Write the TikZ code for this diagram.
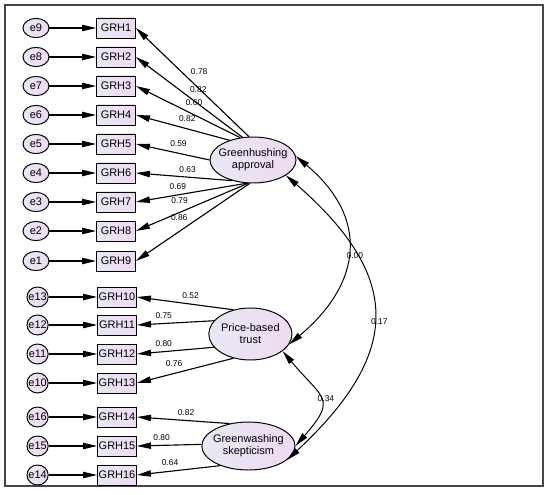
\documentclass[tikz,border=0pt]{standalone}
\usepackage{fontspec}
\setmainfont{Liberation Sans}
\usetikzlibrary{arrows.meta,shapes.geometric}
\definecolor{shadeL}{RGB}{232,232,244}
\definecolor{shadeR}{RGB}{238,218,242}
\definecolor{frameGray}{RGB}{70,70,70}

\begin{document}
\begin{tikzpicture}[
    item/.style={rectangle, draw, line width=0.7pt, minimum width=0.97cm, minimum height=0.5cm, inner sep=0pt, left color=shadeL, right color=shadeR, font=\fontsize{7.8}{9}\selectfont},
    err/.style={ellipse, draw, line width=0.7pt, minimum width=0.65cm, minimum height=0.48cm, inner sep=0pt, left color=shadeL, right color=shadeR, font=\fontsize{7.8}{9}\selectfont},
    errsmall/.style={err, minimum width=0.53cm, minimum height=0.5cm, inner xsep=-3pt},
    factor/.style={ellipse, draw, line width=0.7pt, inner xsep=-4pt, inner ysep=0pt, align=center, left color=shadeL, right color=shadeR, font=\fontsize{7.8}{8.5}\selectfont},
    arrow/.style={-{Triangle[length=10pt,width=4.5pt]}, line width=0.8pt},
    covar/.style={{Triangle[length=10pt,width=4.5pt]}-{Triangle[length=10pt,width=4.5pt]}, line width=0.7pt},
    coef/.style={font=\fontsize{6}{7}\selectfont, inner sep=1pt}
]
    \useasboundingbox (0,0) rectangle (13.75,12.35);
    \draw[frameGray, line width=1pt] (0.125,0.2) rectangle (13.575,12.225);

    \node[factor, minimum width=2.15cm, minimum height=1.15cm] (approval) at (6.325,8.35) {Greenhushing\\approval};
    \node[factor, minimum width=2.08cm, minimum height=1.3cm] (trust) at (6.26,4.0) {Price-based\\trust};
    \node[factor, minimum width=2.33cm, minimum height=1.2cm] (skept) at (6.21,1.2) {Greenwashing\\skepticism};

    \foreach \row/\e/\y in {1/9/11.65, 2/8/10.925, 3/7/10.2, 4/6/9.475, 5/5/8.75, 6/4/8.025, 7/3/7.3, 8/2/6.575, 9/1/5.825} {
        \node[item] (GRH\row) at (2.9,\y) {GRH\row};
        \node[err] (e\e) at (0.9,\y) {e\e};
        \draw[arrow] (e\e) -- (GRH\row);
    }
    \foreach \row/\e/\y in {10/13/4.925, 11/12/4.225, 12/11/3.5, 13/10/2.775, 14/16/1.925, 15/15/1.2, 16/14/0.475} {
        \node[item] (GRH\row) at (2.925,\y) {GRH\row};
        \node[errsmall] (e\e) at (0.94,\y) {e\e};
        \draw[arrow] (e\e) -- (GRH\row);
    }

    \foreach \f/\row/\ang/\p/\anc/\val in {approval/1/100/0.53/south west/0.78, approval/2/115/0.51/south west/0.82,
            approval/3/120/0.54/south west/0.60, approval/4/140/0.56/south west/0.82, approval/5/180/0.56/south west/0.59,
            approval/6/225/0.57/south west/0.63, approval/7/255/0.53/south east/0.69, approval/8/258/0.52/south east/0.79,
            approval/9/262/0.53/south east/0.86, trust/10/125/0.55/south west/0.52, trust/11/160/0.52/south east/0.75,
            trust/12/200/0.52/south east/0.80, trust/13/235/0.51/south east/0.76, skept/14/130/0.58/south west/0.82,
            skept/15/178/0.46/south east/0.80, skept/16/215/0.48/south east/0.64}
        \draw[arrow] (\f.\ang) -- node[coef, pos=\p, anchor=\anc, yshift=1.5pt] (load\row) {\val} (GRH\row.east);

    \draw[covar] (approval.5) to[out=-40, in=40, looseness=1.3] node[coef, anchor=west, xshift=-2pt, yshift=-3.5pt] (cov1) {0.00} (trust.345);
    \draw[covar] (approval.335) to[out=-41, in=43, looseness=1.4] node[coef, anchor=west, xshift=-3pt, yshift=-4pt] (cov2) {0.17} (skept.340);
    \draw[covar] (trust.332) to[out=-50, in=49, looseness=1.7] node[coef, anchor=west, xshift=-3pt] (cov3) {0.34} (skept.0);
\end{tikzpicture}
\end{document}
